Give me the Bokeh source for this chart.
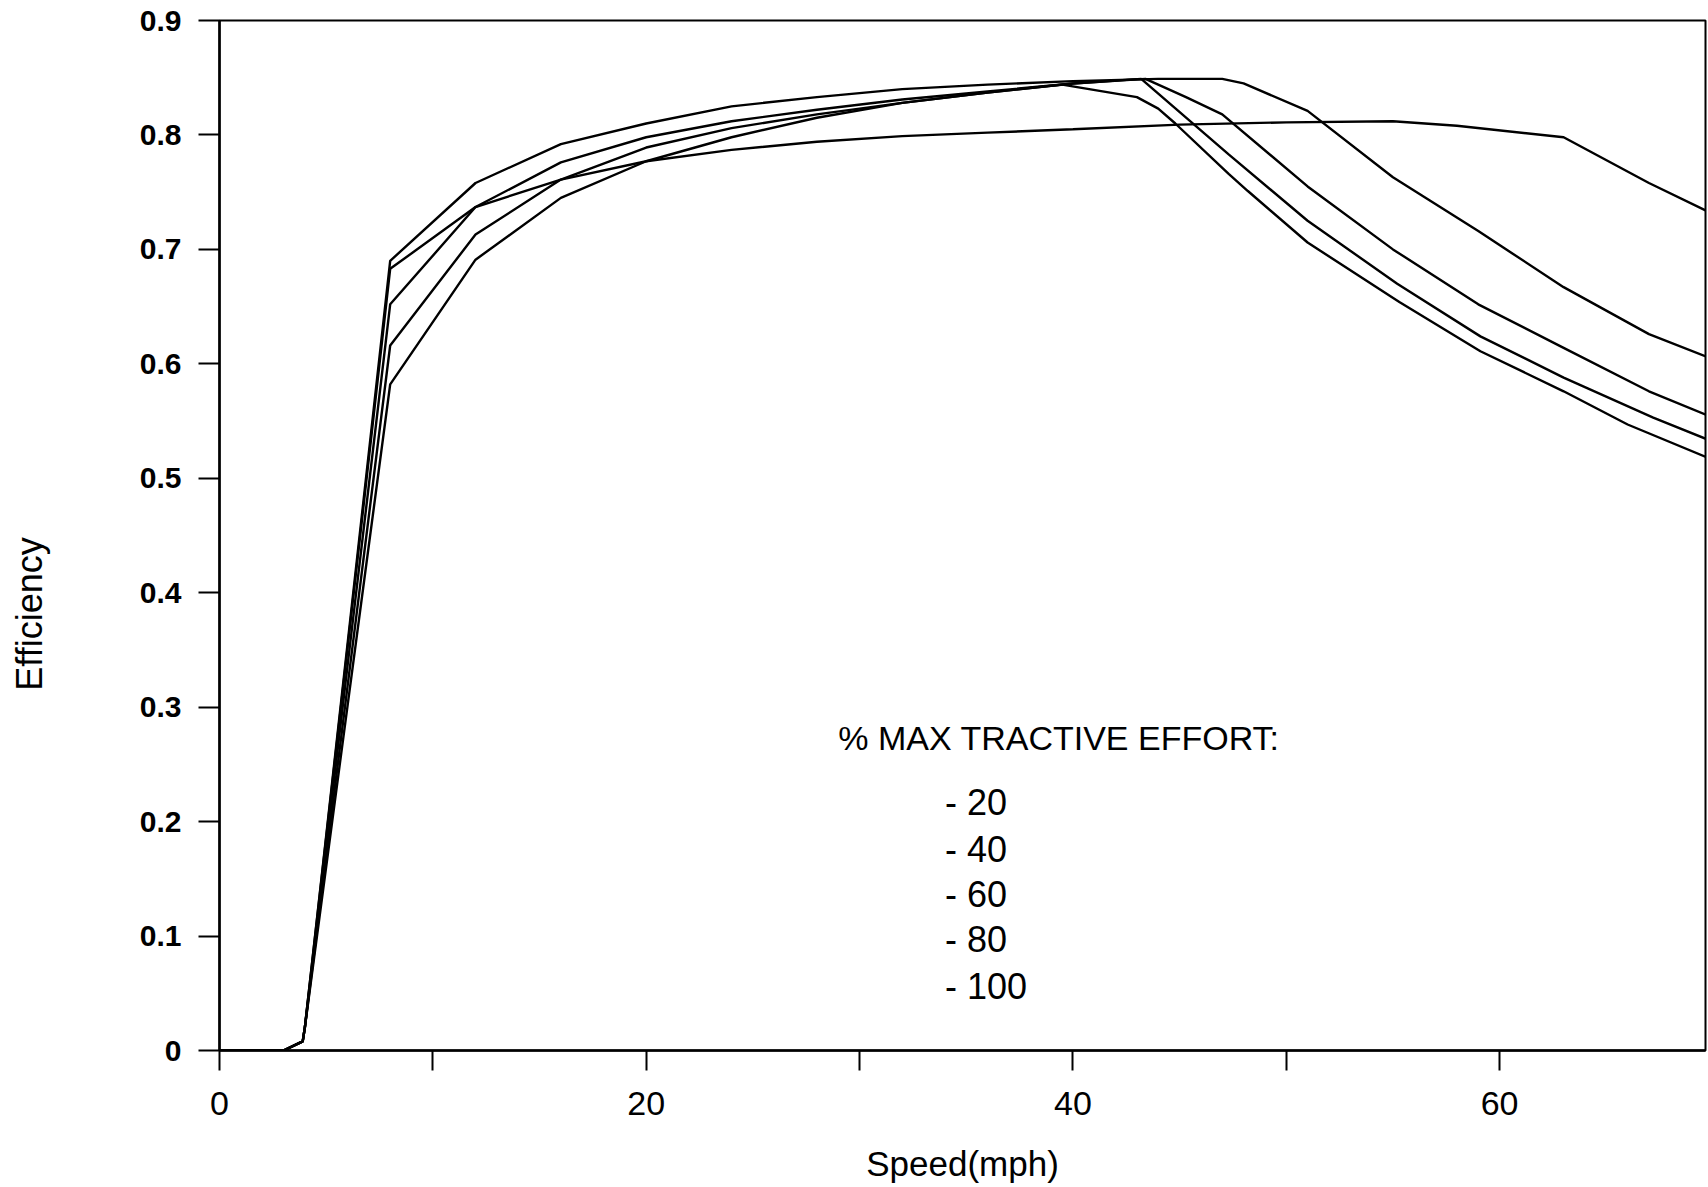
import math
from bokeh.plotting import figure
from bokeh.layouts import row
from bokeh.models import Range1d, FixedTicker, Label
from bokeh.core.properties import value
from bokeh.embed import file_html
from bokeh.resources import INLINE

# ---- data ----
speed_20 = [0, 3, 3.9, 4, 8, 12, 16, 20, 24, 28, 32, 36, 40, 45, 50, 55, 58, 63, 67, 70]
eff_20 = [0, 0, 0.008, 0.02, 0.683, 0.737, 0.761, 0.777, 0.787, 0.794, 0.799, 0.802, 0.805,
          0.809, 0.811, 0.812, 0.808, 0.798, 0.758, 0.731]

speed_40 = [0, 3, 3.9, 4, 8, 12, 16, 20, 24, 28, 32, 36, 40, 44, 47, 48, 51, 55, 59, 63, 67, 70]
eff_40 = [0, 0, 0.008, 0.02, 0.690, 0.758, 0.792, 0.810, 0.825, 0.833, 0.840, 0.844, 0.847,
          0.849, 0.849, 0.845, 0.821, 0.763, 0.716, 0.667, 0.626, 0.604]

speed_60 = [0, 3, 3.9, 4, 8, 12, 16, 20, 24, 28, 32, 36, 40, 43.4, 45.3, 47, 51, 55, 59, 63, 67, 70]
eff_60 = [0, 0, 0.008, 0.02, 0.652, 0.737, 0.776, 0.798, 0.812, 0.822, 0.831, 0.838, 0.845,
          0.849, 0.833, 0.818, 0.755, 0.700, 0.652, 0.614, 0.576, 0.553]

speed_80 = [0, 3, 3.9, 4, 8, 12, 16, 20, 24, 28, 32, 36, 40, 43.2, 47.3, 51, 55.2, 59.1, 63, 67.2, 70]
eff_80 = [0, 0, 0.008, 0.02, 0.616, 0.713, 0.761, 0.789, 0.806, 0.818, 0.828, 0.837, 0.845,
          0.849, 0.783, 0.725, 0.670, 0.624, 0.588, 0.553, 0.532]

speed_100 = [0, 3, 3.9, 4, 8, 12, 16, 20, 24, 28, 32, 36, 39.5, 43, 44, 44.8, 47.3, 48.2, 51,
             55.3, 59.1, 63, 66, 70]
eff_100 = [0, 0, 0.008, 0.02, 0.582, 0.691, 0.745, 0.777, 0.798, 0.815, 0.828, 0.837, 0.844,
           0.833, 0.823, 0.810, 0.766, 0.751, 0.706, 0.654, 0.611, 0.576, 0.547, 0.516]

series_speeds = [speed_20, speed_40, speed_60, speed_80, speed_100]
series_effs = [eff_20, eff_40, eff_60, eff_80, eff_100]

legend_title = "% MAX TRACTIVE EFFORT:"
legend_entries = ["- 20", "- 40", "- 60", "- 80", "- 100"]
legend_y = [0.2166, 0.1755, 0.136, 0.097, 0.056]

x_ticks = [0, 20, 40, 60]
x_minor_ticks = [10, 30, 50, 70]
x_tick_labels = ["0", "20", "40", "60"]
y_ticks = [0, 0.1, 0.2, 0.3, 0.4, 0.5, 0.6, 0.7, 0.8, 0.9]
y_tick_labels = ["0", "0.1", "0.2", "0.3", "0.4", "0.5", "0.6", "0.7", "0.8", "0.9"]

x_title = "Speed(mph)"
y_title = "Efficiency"

FONT = "Liberation Sans"
H = 1187
TITLE_W = 64

# ---- narrow strip holding the y title (placed low, as in the original) ----
strip = figure(width=TITLE_W, height=H, x_range=Range1d(0, TITLE_W), y_range=Range1d(0, H),
               output_backend="svg", toolbar_location=None,
               x_axis_location=None, y_axis_location=None, min_border=0)
strip.grid.visible = False
strip.outline_line_color = None
strip.background_fill_color = "white"
strip.border_fill_color = "white"
strip.text(x=[29], y=[503], text=[y_title], angle=math.pi / 2,
           text_align="center", text_baseline="middle", text_color="black",
           text_font=value(FONT), text_font_size=value("36px"))

# ---- main chart ----
p = figure(width=1708 - TITLE_W, height=H,
           x_range=Range1d(0, 69.65), y_range=Range1d(0, 0.9),
           output_backend="svg", toolbar_location=None,
           min_border_left=219 - TITLE_W, min_border_right=3,
           min_border_top=20, min_border_bottom=137)

p.xgrid.visible = False
p.ygrid.visible = False
p.background_fill_color = "white"
p.border_fill_color = "white"
p.outline_line_color = "black"
p.outline_line_width = 2
p.outline_line_alpha = 1

for sx, sy in zip(series_speeds, series_effs):
    p.line(sx, sy, line_color="black", line_width=2.4)

# x axis
xa = p.xaxis[0]
xa.ticker = FixedTicker(ticks=x_ticks, minor_ticks=x_minor_ticks)
xa.major_label_overrides = {t: l for t, l in zip(x_ticks, x_tick_labels)}
xa.axis_line_width = 2.5
xa.axis_line_color = "black"
xa.major_tick_out = 20
xa.major_tick_in = 0
xa.minor_tick_out = 20
xa.minor_tick_in = 0
xa.major_tick_line_width = 2
xa.minor_tick_line_width = 2
xa.major_tick_line_color = "black"
xa.minor_tick_line_color = "black"
xa.major_label_text_font = FONT
xa.major_label_text_font_size = "34px"
xa.major_label_text_color = "black"
xa.major_label_standoff = 21
xa.axis_label = x_title
xa.axis_label_text_font = FONT
xa.axis_label_text_font_size = "35px"
xa.axis_label_text_font_style = "normal"
xa.axis_label_text_color = "black"
xa.axis_label_standoff = 26

# y axis
ya = p.yaxis[0]
ya.ticker = FixedTicker(ticks=y_ticks, minor_ticks=[])
ya.major_label_overrides = {t: l for t, l in zip(y_ticks, y_tick_labels)}
ya.axis_line_width = 2.5
ya.axis_line_color = "black"
ya.major_tick_out = 21
ya.major_tick_in = 0
ya.major_tick_line_width = 2
ya.major_tick_line_color = "black"
ya.major_label_text_font = FONT
ya.major_label_text_font_size = "30px"
ya.major_label_text_font_style = "bold"
ya.major_label_text_color = "black"
ya.major_label_standoff = 17

# legend text (no line samples in the original)
p.add_layout(Label(x=29.0, y=0.273, text=legend_title, text_font=FONT,
                   text_font_size="34px", text_baseline="middle", text_align="left",
                   text_color="black"))
for txt, yy in zip(legend_entries, legend_y):
    p.add_layout(Label(x=34.0, y=yy, text=txt, text_font=FONT,
                       text_font_size="36px", text_baseline="middle", text_align="left",
                       text_color="black"))

layout = row(strip, p, spacing=0)
open("out.html", "w").write(file_html(layout, INLINE))
